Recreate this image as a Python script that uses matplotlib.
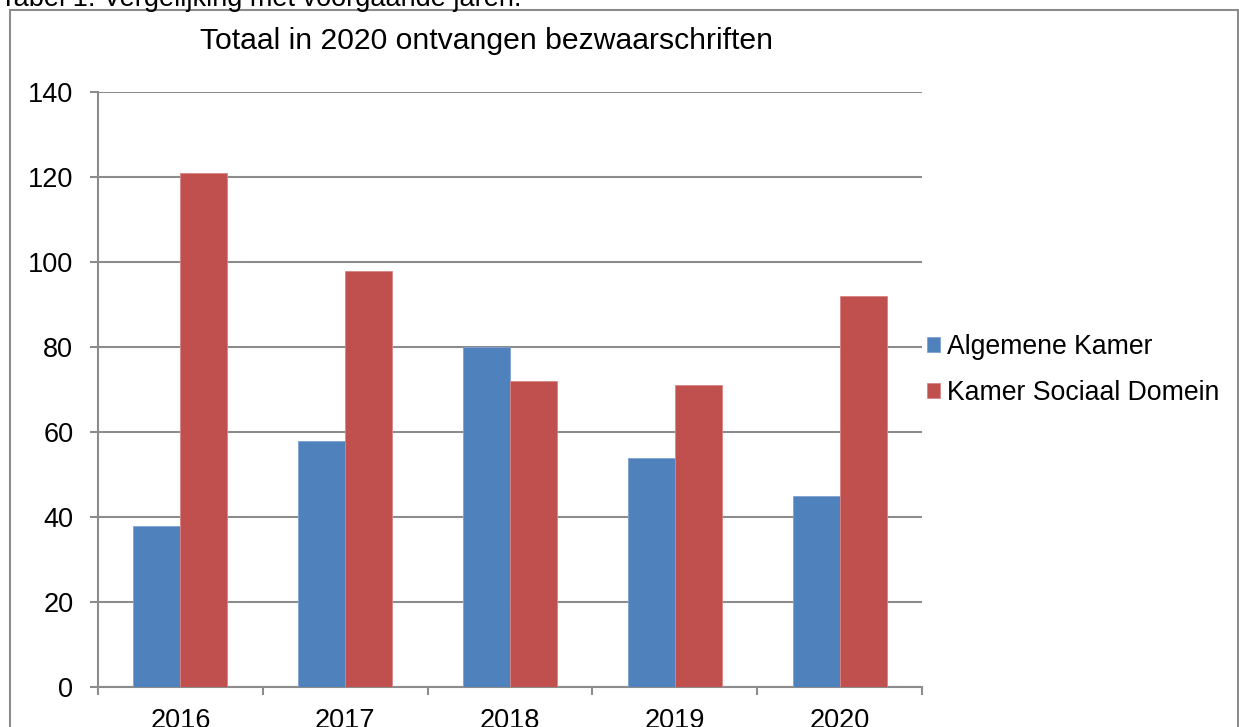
import matplotlib
matplotlib.use("Agg")
import numpy as np
import matplotlib.pyplot as plt
from matplotlib.patches import Rectangle

plt.rcParams["font.family"] = ["Liberation Sans", "DejaVu Sans"]

years = ["2016", "2017", "2018", "2019", "2020"]
algemene_kamer = [38, 58, 80, 54, 45]
kamer_sociaal_domein = [121, 98, 72, 71, 92]

W, H = 1239, 727
fig = plt.figure(figsize=(W / 100, H / 100), dpi=100)

# outer chart border (bottom runs off the image)
fig.patches.append(Rectangle((10 / W, -0.05), (1238 - 10) / W, (H - 10) / H + 0.05,
                             transform=fig.transFigure, fill=False,
                             edgecolor="#8c8c8c", linewidth=1.5))

# caption above the chart, cut off by the top edge in the source
fig.text(0.0, 1 - 6 / H, "Tabel 1: Vergelijking met voorgaande jaren.",
         fontsize=19.5, ha="left", va="baseline")
fig.text(487 / W, 1 - 41 / H, "Totaal in 2020 ontvangen bezwaarschriften",
         fontsize=21.7, ha="center", va="center")

ax = fig.add_axes([98 / W, (H - 687) / H, 824 / W, 595 / H])
x = np.arange(len(years))
w = 0.285
ax.bar(x - w / 2, algemene_kamer, w, color="#4F81BD", edgecolor="#7ea3d1",
       linewidth=0.6, label="Algemene Kamer", zorder=3)
ax.bar(x + w / 2, kamer_sociaal_domein, w, color="#C0504D", edgecolor="#d88583",
       linewidth=0.6, label="Kamer Sociaal Domein", zorder=3)

ax.set_xlim(-0.5, len(years) - 0.5)
ax.set_ylim(0, 140)
ax.set_yticks(np.arange(0, 141, 20))
ax.grid(axis="y", color="#8c8c8c", linewidth=1.5, zorder=0)
ax.set_axisbelow(True)

ax.set_xticks(np.arange(-0.5, len(years), 1.0))
ax.set_xticklabels([])
ax.set_xticks(x, minor=True)
ax.set_xticklabels(years, minor=True)
ax.tick_params(axis="x", which="major", direction="out", length=5.8,
               width=1.5, color="#8c8c8c")
ax.tick_params(axis="x", which="minor", length=0, pad=15, labelsize=19.5)
ax.tick_params(axis="y", direction="out", length=5.8, width=1.5,
               color="#8c8c8c", labelsize=19.5, pad=12)

for side in ["top", "right"]:
    ax.spines[side].set_visible(False)
for side in ["left", "bottom"]:
    ax.spines[side].set_color("#8c8c8c")
    ax.spines[side].set_linewidth(1.5)

fig.legend(loc="center left", bbox_to_anchor=(927 / W, 1 - 370 / H),
           frameon=False, fontsize=19.2, handlelength=0.5, handleheight=0.5,
           handletextpad=0.25, labelspacing=0.75, borderaxespad=0, borderpad=0)

fig.savefig("out.png", dpi=100)
